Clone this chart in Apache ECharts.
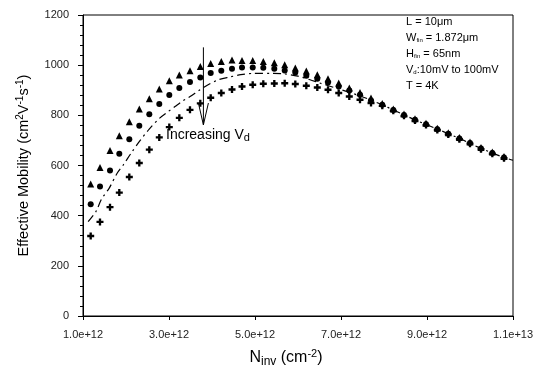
<!DOCTYPE html>
<html>
<head>
<meta charset="utf-8">
<script src="https://cdn.jsdelivr.net/npm/echarts@6/dist/echarts.min.js"></script>
<style>
html,body{margin:0;padding:0;background:#fff;}
#chart{width:545px;height:379px;}
</style>
</head>
<body>
<div id="chart"></div>
<script>
// N_inv in units of 1e12 cm^-2
const nInv = [1.179,1.395,1.628,1.844,2.077,2.309,2.542,2.774,3.007,3.240,3.488,3.728,3.970,4.216,4.465,4.698,4.947,5.193,5.449,5.691,5.937,6.193,6.449,6.698,6.947,7.193,7.442,7.698,7.960,8.216,8.465,8.721,8.977,9.240,9.495,9.753,10.000,10.256,10.519,10.791];
const mobTriangle = [526,592,660,719,774,825,866,905,938,961,978,995,1007,1015,1021,1019,1019,1015,1010,1002,989,977,962,946,929,909,891,869,847,825,805,786,768,749,731,712,694,672,654,636];
const mobCircle = [446,516,580,647,705,758,804,845,881,909,933,951,969,978,986,991,991,990,986,979,971,958,946,931,915,899,882,859,842,821,801,782,764,745,727,708,690,668,650,632];
const mobPlus = [319,375,434,492,554,610,663,712,753,790,822,848,870,889,903,915,922,926,927,928,925,918,911,902,889,875,862,849,838,818,798,779,761,742,724,705,687,665,647,629];
const lineN = [1.12,1.30,1.43,1.61,1.79,1.94,2.13,2.33,2.54,2.79,2.98,3.14,3.30,3.49,3.72,3.91,4.15,4.42,4.67,4.96,5.43,5.69,6.00,6.28,6.50,6.95,7.45,7.96,8.22,8.72,9.24,9.75,10.26,10.79,11.0];
const lineV = [376,416,466,510,568,603,652,700,745,790,815,835,855,875,902,922,942,953,962,967,967,965,956,942,929,905,877,842,821,782,745,708,668,632,621];
const xTicks = [1,3,5,7,9,11];
const yTicks = [0,200,400,600,800,1000,1200];
const annotationLines = [
  '{a|L = 10\u03bcm}',
  '{a|W}{s|fin}{a| = 1.872\u03bcm}',
  '{a|H}{s|fin}{a| = 65nm}',
  '{a|V}{s|d}{a|:10mV to 100mV}',
  '{a|T = 4K}'
];
const arrowN = 3.80, arrowTop = 1071, arrowTip = 762, arrowHeadBase = 849;

const FONT = 'Liberation Sans, Arial, sans-serif';
const chart = echarts.init(document.getElementById('chart'), null, {renderer:'canvas'});
const zip = (xs, ys) => xs.map((x,i)=>[x, ys[i]]);
const plusPath = 'path://M3,0h3v3h3v3h-3v3h-3v-3h-3v-3h3z';

chart.setOption({
  animation:false,
  backgroundColor:'#fff',
  grid:{left:83,right:32,top:15,bottom:63,show:true,borderColor:'#000',borderWidth:1,backgroundColor:'transparent'},
  xAxis:{
    type:'value',min:xTicks[0],max:xTicks[xTicks.length-1],interval:2,
    axisLine:{show:true,lineStyle:{color:'#000',width:1}},
    axisTick:{show:true,length:4,lineStyle:{color:'#000'}},
    splitLine:{show:false},
    axisLabel:{fontFamily:FONT,fontSize:11,color:'#222',margin:13,
      formatter:v=>(v*1e12).toExponential(1)},
    name:'{a|N}{b|inv}{a| (cm}{s|-2}{a|)}',
    nameLocation:'middle',nameGap:32,
    nameTextStyle:{padding:[0,24,0,0],rich:{
      a:{fontFamily:FONT,fontSize:16,color:'#000'},
      b:{fontFamily:FONT,fontSize:12,color:'#000',padding:[7,0,0,0]},
      s:{fontFamily:FONT,fontSize:11,color:'#000',padding:[0,0,9,0]}
    }}
  },
  yAxis:{
    type:'value',min:yTicks[0],max:yTicks[yTicks.length-1],interval:200,
    axisLine:{show:true,lineStyle:{color:'#000',width:1}},
    axisTick:{show:true,length:5,lineStyle:{color:'#000'}},
    minorTick:{show:true,splitNumber:5,length:3,lineStyle:{color:'#000'}},
    splitLine:{show:false},
    axisLabel:{fontFamily:FONT,fontSize:11,color:'#222',margin:14,formatter:v=>String(v)},
    name:'{a|Effective Mobility (cm}{s|2}{a|V}{s|-1}{a|s}{s|-1}{a|)}',
    nameLocation:'middle',nameGap:50,
    nameTextStyle:{rich:{
      a:{fontFamily:FONT,fontSize:14.5,color:'#000'},
      s:{fontFamily:FONT,fontSize:10,color:'#000',padding:[0,0,8,0]}
    }}
  },
  series:[
    {type:'line',data:zip(lineN,lineV),showSymbol:false,symbol:'none',smooth:0.3,z:1,
      lineStyle:{color:'#000',width:1.2,type:[8,4,2,4]}},
    {type:'scatter',data:zip(nInv,mobTriangle),symbol:'triangle',symbolSize:7,itemStyle:{color:'#000',opacity:1},z:3},
    {type:'scatter',data:zip(nInv,mobCircle),symbol:'circle',symbolSize:6,itemStyle:{color:'#000',opacity:1},z:3},
    {type:'scatter',data:zip(nInv,mobPlus),symbol:plusPath,symbolSize:7,itemStyle:{color:'#000',opacity:1},z:3}
  ]
});

function addGraphics(){
  const top = chart.convertToPixel({gridIndex:0},[arrowN,arrowTop]);
  const tip = chart.convertToPixel({gridIndex:0},[arrowN,arrowTip]);
  const hb = chart.convertToPixel({gridIndex:0},[arrowN,arrowHeadBase]);
  const elems = [
    {type:'line',shape:{x1:top[0],y1:top[1],x2:tip[0],y2:tip[1]},style:{stroke:'#000',lineWidth:1},z:10},
    {type:'polyline',shape:{points:[[hb[0]-5,hb[1]],[tip[0],tip[1]],[hb[0]+5,hb[1]]]},style:{stroke:'#000',lineWidth:1,fill:null},z:10},
    {type:'text',left:166,top:128,z:10,style:{text:'{a|Increasing V}{b|d}',rich:{
      a:{fontFamily:FONT,fontSize:14,fill:'#000'},
      b:{fontFamily:FONT,fontSize:11,fill:'#000',padding:[6,0,0,0]}
    }}}
  ];
  annotationLines.forEach((t,i)=>{
    elems.push({type:'text',left:406,top:16+i*16,z:10,style:{text:t,rich:{
      a:{fontFamily:FONT,fontSize:11,fill:'#000'},
      s:{fontFamily:FONT,fontSize:6,fill:'#000',padding:[5,0,0,0]}
    }}});
  });
  chart.setOption({graphic:elems});
}
addGraphics();
</script>
</body>
</html>
